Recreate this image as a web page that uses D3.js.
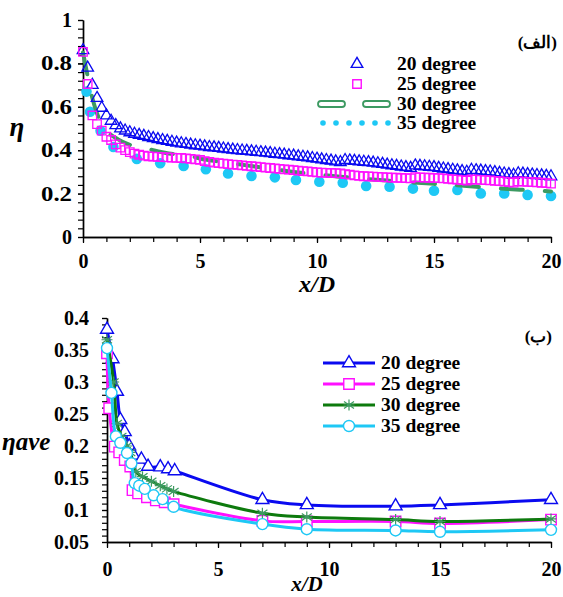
<!DOCTYPE html>
<html>
<head>
<meta charset="utf-8">
<script src="https://cdn.jsdelivr.net/npm/d3@7"></script>
<style>
  body { margin: 0; background: #fff; }
  svg { display: block; }
</style>
</head>
<body>
<div id="chart"></div>
<script>
// ---- data ----
const seriesNames = ["20 degree", "25 degree", "30 degree", "35 degree"];

// top panel (الف): local effectiveness along x/D
const topX = [0, 0.2, 0.4, 0.6, 0.8, 1, 1.2, 1.4, 1.6, 1.8, 2, 2.2, 2.4, 2.6, 2.8, 3, 3.2, 3.4, 3.6, 3.8,
  4, 4.2, 4.4, 4.6, 4.8, 5, 5.2, 5.4, 5.6, 5.8, 6, 6.2, 6.4, 6.6, 6.8, 7, 7.2, 7.4, 7.6, 7.8,
  8, 8.2, 8.4, 8.6, 8.8, 9, 9.2, 9.4, 9.6, 9.8, 10, 10.2, 10.4, 10.6, 10.8, 11, 11.2, 11.4, 11.6, 11.8,
  12, 12.2, 12.4, 12.6, 12.8, 13, 13.2, 13.4, 13.6, 13.8, 14, 14.2, 14.4, 14.6, 14.8, 15, 15.2, 15.4, 15.6, 15.8,
  16, 16.2, 16.4, 16.6, 16.8, 17, 17.2, 17.4, 17.6, 17.8, 18, 18.2, 18.4, 18.6, 18.8, 19, 19.2, 19.4, 19.6, 19.8, 20];
const topEta20 = [0.86, 0.78, 0.70, 0.64, 0.595, 0.56, 0.535, 0.515, 0.50, 0.49, 0.482, 0.475, 0.47, 0.465, 0.46, 0.455, 0.45, 0.446, 0.442, 0.438,
  0.434, 0.431, 0.428, 0.425, 0.422, 0.42, 0.417, 0.414, 0.412, 0.41, 0.407, 0.404, 0.402, 0.40, 0.398, 0.396, 0.394, 0.392, 0.39, 0.388,
  0.386, 0.383, 0.381, 0.379, 0.376, 0.374, 0.371, 0.369, 0.366, 0.363, 0.36, 0.357, 0.354, 0.351, 0.348, 0.345, 0.354, 0.352, 0.35, 0.348,
  0.346, 0.344, 0.342, 0.339, 0.336, 0.333, 0.33, 0.327, 0.324, 0.321, 0.318, 0.329, 0.327, 0.325, 0.323, 0.321, 0.318, 0.315, 0.312, 0.309,
  0.306, 0.303, 0.30, 0.309, 0.307, 0.305, 0.303, 0.301, 0.298, 0.295, 0.292, 0.289, 0.286, 0.293, 0.291, 0.289, 0.287, 0.285, 0.283, 0.281, 0.279];
const topEta25 = [0.853, 0.705, 0.56, 0.52, 0.49, 0.462, 0.447, 0.427, 0.412, 0.40, 0.391, 0.384, 0.379, 0.375, 0.372, 0.37, 0.369, 0.368, 0.367, 0.366,
  0.365, 0.364, 0.362, 0.36, 0.358, 0.355, 0.35, 0.346, 0.343, 0.34, 0.338, 0.336, 0.334, 0.332, 0.33, 0.328, 0.326, 0.324, 0.322, 0.32,
  0.318, 0.316, 0.314, 0.312, 0.31, 0.308, 0.306, 0.304, 0.302, 0.30, 0.298, 0.297, 0.296, 0.295, 0.294, 0.293, 0.29, 0.287, 0.284, 0.282,
  0.28, 0.279, 0.278, 0.277, 0.276, 0.275, 0.274, 0.273, 0.272, 0.271, 0.27, 0.276, 0.275, 0.274, 0.273, 0.272, 0.271, 0.27, 0.268, 0.266,
  0.264, 0.262, 0.26, 0.265, 0.264, 0.263, 0.262, 0.261, 0.259, 0.257, 0.255, 0.253, 0.251, 0.256, 0.255, 0.254, 0.253, 0.252, 0.25, 0.248, 0.246];
const topX30 = [0, 0.2, 0.4, 0.6, 0.8, 1, 1.5, 2, 2.5, 3, 3.5, 4, 4.5, 5, 6, 7, 8, 9, 10, 11, 12, 13, 14, 15, 16, 17, 18, 19, 20];
const topEta30 = [0.85, 0.74, 0.64, 0.57, 0.52, 0.49, 0.45, 0.425, 0.41, 0.40, 0.388, 0.38, 0.375, 0.362, 0.345, 0.33, 0.315, 0.30, 0.288, 0.278,
  0.268, 0.26, 0.252, 0.245, 0.238, 0.23, 0.222, 0.216, 0.21];
const topX35 = [0.15, 0.3, 0.75, 1.3, 2.3, 3.3, 4.3, 5.25, 6.2, 7.2, 8.2, 9.1, 10.1, 11.1, 12.1, 13.1, 14.1, 15, 16, 17, 18, 19, 20];
const topEta35 = [0.67, 0.577, 0.49, 0.415, 0.36, 0.34, 0.327, 0.312, 0.293, 0.281, 0.275, 0.263, 0.255, 0.25, 0.235, 0.232, 0.223, 0.213, 0.217,
  0.201, 0.201, 0.194, 0.189];

// bottom panel (ب): averaged effectiveness
const botX20 = [0, 0.25, 0.45, 0.6, 0.8, 1.0, 1.2, 1.55, 1.85, 2.4, 2.75, 3.05, 7, 9, 13, 15, 20];
const botEta20 = [0.382, 0.336, 0.285, 0.241, 0.222, 0.2, 0.185, 0.179, 0.168, 0.167, 0.164, 0.161, 0.116, 0.108, 0.106, 0.108, 0.116];
const botX25 = [0, 0.1, 0.35, 0.55, 0.8, 1.05, 1.15, 1.4, 1.8, 2.2, 2.6, 3, 7, 9, 13, 15, 20];
const botEta25 = [0.345, 0.259, 0.199, 0.19, 0.178, 0.168, 0.131, 0.126, 0.12, 0.115, 0.112, 0.109, 0.083, 0.082, 0.082, 0.079, 0.085];
const botX30 = [0, 0.3, 0.45, 0.65, 0.9, 1.05, 1.3, 1.6, 2, 2.4, 2.7, 3, 7, 9, 13, 15, 20];
const botEta30 = [0.366, 0.30, 0.235, 0.215, 0.2, 0.19, 0.16, 0.152, 0.145, 0.138, 0.133, 0.129, 0.095, 0.089, 0.085, 0.082, 0.086];
const botX35 = [0, 0.2, 0.4, 0.6, 0.9, 1.1, 1.25, 1.45, 1.7, 2.1, 2.5, 3, 7, 9, 13, 15, 20];
const botEta35 = [0.353, 0.283, 0.215, 0.205, 0.189, 0.173, 0.142, 0.138, 0.133, 0.123, 0.117, 0.105, 0.078, 0.07, 0.068, 0.066, 0.069];

// ticks
const xTicks = [0, 5, 10, 15, 20];
const topYTicks = [0, 0.2, 0.4, 0.6, 0.8, 1];
const botYTicks = [0.05, 0.1, 0.15, 0.2, 0.25, 0.3, 0.35, 0.4];

// ---- drawing ----
const W = 563, H = 597;
const FONT = "'Liberation Serif', Tinos, 'Times New Roman', serif";
const svg = d3.select("#chart").append("svg").attr("width", W).attr("height", H)
  .style("font-family", FONT).attr("font-weight", "bold");

const blue = "#0a0af0", pink = "#ff10ff", green30 = "#3d9a62", greenLine = "#0d7a0d", cyan = "#1ec8f5";

function styleAxis(g) {
  g.attr("font-family", null).style("font-family", FONT).attr("font-weight", "bold");
  g.selectAll("path").attr("stroke", "#000").attr("stroke-width", 1.4);
  g.selectAll("line").attr("stroke", "#000").attr("stroke-width", 1.2);
  g.selectAll("text").attr("fill", "#000").attr("font-size", 20);
}

function axes(x, y, yTicks, yMinor, opts) {
  const y0 = y.range()[0], x0 = x.range()[0];
  svg.append("g").attr("transform", "translate(0," + y0 + ")")
    .call(d3.axisBottom(x).tickValues(d3.range(0, 21, 1)).tickSize(5).tickSizeOuter(0).tickFormat(""))
    .call(styleAxis);
  svg.append("g").attr("transform", "translate(0," + y0 + ")")
    .call(d3.axisBottom(x).tickValues(xTicks).tickSize(6).tickSizeOuter(0).tickPadding(opts.xPad).tickFormat(d => d))
    .call(styleAxis);
  svg.append("g").attr("transform", "translate(" + x0 + ",0)")
    .call(d3.axisLeft(y).tickValues(yMinor).tickSize(5).tickSizeOuter(0).tickFormat(""))
    .call(styleAxis);
  return svg.append("g").attr("transform", "translate(" + x0 + ",0)")
    .call(d3.axisLeft(y).tickValues(yTicks).tickSize(5).tickSizeOuter(0).tickPadding(opts.yPad).tickFormat(d => String(d)))
    .call(styleAxis);
}

// ===== top panel =====
const xt = d3.scaleLinear().domain([0, 20]).range([83, 551]);
const yt = d3.scaleLinear().domain([0, 1]).range([237, 20]);
const yAxTop = axes(xt, yt, topYTicks, d3.range(0, 1.001, 0.04), { xPad: 11, yPad: 6 });
// the top panel's decimal labels are a little wider in the original
yAxTop.selectAll("text").filter(d => String(d).length > 1)
  .attr("textLength", 31).attr("lengthAdjust", "spacingAndGlyphs");

const gTop = svg.append("g");
// 35 degree: filled circles
gTop.selectAll(".c35").data(topX35.map((d, i) => [d, topEta35[i]])).join("circle")
  .attr("cx", d => xt(d[0])).attr("cy", d => yt(d[1])).attr("r", 5.3).attr("fill", cyan);
// 30 degree: thick dashed line
gTop.append("path")
  .datum(topX30.map((d, i) => [d, topEta30[i]]))
  .attr("d", d3.line().x(d => xt(d[0])).y(d => yt(d[1])).curve(d3.curveMonotoneX))
  .attr("fill", "none").attr("stroke", green30).attr("stroke-width", 4)
  .attr("stroke-dasharray", "22,22").attr("stroke-linecap", "round");
// 20 degree: hollow triangles
const tri = d3.symbol(d3.symbolTriangle, 58);
gTop.selectAll(".t20").data(topX.map((d, i) => [d, topEta20[i]])).join("path")
  .attr("d", tri).attr("transform", d => "translate(" + xt(d[0]) + "," + yt(d[1]) + ")")
  .attr("fill", "none").attr("stroke", blue).attr("stroke-width", 1.3);
// 25 degree: hollow squares
const sq = d3.symbol(d3.symbolSquare, 72);
gTop.selectAll(".s25").data(topX.map((d, i) => [d, topEta25[i]])).join("path")
  .attr("d", sq).attr("transform", d => "translate(" + xt(d[0]) + "," + yt(d[1]) + ")")
  .attr("fill", "none").attr("stroke", pink).attr("stroke-width", 1.3);

// top labels
svg.append("text").attr("x", 317).attr("y", 292).attr("text-anchor", "middle")
  .attr("font-size", 24).attr("font-style", "italic").text("x/D");
svg.append("text").attr("x", 17).attr("y", 136).attr("text-anchor", "middle")
  .attr("font-size", 27).attr("font-style", "italic").text("η");
svg.append("text").attr("x", 557).attr("y", 48).attr("text-anchor", "end")
  .attr("font-size", 17).text("(الف)");

// top legend
const legTop = svg.append("g");
const legRowsTop = [64, 84, 104, 123];
legTop.append("path").attr("d", tri).attr("transform", "translate(357," + legRowsTop[0] + ")")
  .attr("fill", "#fff").attr("stroke", blue).attr("stroke-width", 1.4);
legTop.append("path").attr("d", sq).attr("transform", "translate(357," + legRowsTop[1] + ")")
  .attr("fill", "#fff").attr("stroke", pink).attr("stroke-width", 1.4);
[318, 363].forEach(x0 => {
  legTop.append("rect").attr("x", x0).attr("y", legRowsTop[2] - 3).attr("width", 27).attr("height", 6)
    .attr("rx", 3).attr("fill", "#fff").attr("stroke", green30).attr("stroke-width", 1.8);
});
d3.range(6).forEach(i => {
  legTop.append("circle").attr("cx", 323 + i * 13).attr("cy", legRowsTop[3]).attr("r", 2.8).attr("fill", cyan);
});
seriesNames.forEach((s, i) => {
  legTop.append("text").attr("x", 397).attr("y", legRowsTop[i] + 6).attr("font-size", 19.5).text(s);
});

// ===== bottom panel =====
const xb = d3.scaleLinear().domain([0, 20]).range([107, 551]);
const yb = d3.scaleLinear().domain([0.05, 0.4]).range([542, 318]);
axes(xb, yb, botYTicks, d3.range(0.05, 0.4001, 0.01), { xPad: 14, yPad: 13 });

const line = d3.line().x(d => xb(d[0])).y(d => yb(d[1])).curve(d3.curveCatmullRom.alpha(0.5));
const triB = d3.symbol(d3.symbolTriangle, 72);
const sqB = d3.symbol(d3.symbolSquare, 110);
const star = "M0,-5.5L0,5.5M-5,-3.5L5,3.5M-5,3.5L5,-3.5M-5.5,0L5.5,0";

const botSeries = [
  { x: botX20, y: botEta20, color: blue, mcolor: blue, marker: "tri" },
  { x: botX25, y: botEta25, color: pink, mcolor: pink, marker: "sq" },
  { x: botX30, y: botEta30, color: greenLine, mcolor: green30, marker: "star" },
  { x: botX35, y: botEta35, color: cyan, mcolor: cyan, marker: "circ" }
];

function marker(g, type, color) {
  if (type === "tri") g.append("path").attr("d", triB).attr("fill", "#fff").attr("stroke", color).attr("stroke-width", 1.4);
  else if (type === "sq") g.append("path").attr("d", sqB).attr("fill", "#fff").attr("stroke", color).attr("stroke-width", 1.4);
  else if (type === "circ") g.append("circle").attr("r", 5.5).attr("fill", "#fff").attr("stroke", color).attr("stroke-width", 1.4);
  else g.append("path").attr("d", star).attr("fill", "none").attr("stroke", color).attr("stroke-width", 1.2);
}

botSeries.forEach(s => {
  const pts = s.x.map((d, i) => [d, s.y[i]]);
  const g = svg.append("g");
  g.append("path").datum(pts).attr("d", line).attr("fill", "none")
    .attr("stroke", s.color).attr("stroke-width", 3);
  pts.forEach(p => {
    marker(g.append("g").attr("transform", "translate(" + xb(p[0]) + "," + yb(p[1]) + ")"), s.marker, s.mcolor);
  });
});

svg.append("text").attr("x", 307).attr("y", 591).attr("text-anchor", "middle")
  .attr("font-size", 21).attr("font-style", "italic").text("x/D");
svg.append("text").attr("x", 2).attr("y", 450)
  .attr("font-size", 25).attr("font-style", "italic").text("ηave");
svg.append("text").attr("x", 552).attr("y", 342).attr("text-anchor", "end")
  .attr("font-size", 17).text("(ب)");

// bottom legend
const legRowsBot = [363, 384, 405, 426];
botSeries.forEach((s, i) => {
  const g = svg.append("g");
  g.append("line").attr("x1", 323).attr("x2", 375).attr("y1", legRowsBot[i]).attr("y2", legRowsBot[i])
    .attr("stroke", s.color).attr("stroke-width", 3);
  marker(g.append("g").attr("transform", "translate(349," + legRowsBot[i] + ")"), s.marker, s.mcolor);
  g.append("text").attr("x", 381).attr("y", legRowsBot[i] + 6).attr("font-size", 19.5).text(seriesNames[i]);
});
</script>
</body>
</html>
